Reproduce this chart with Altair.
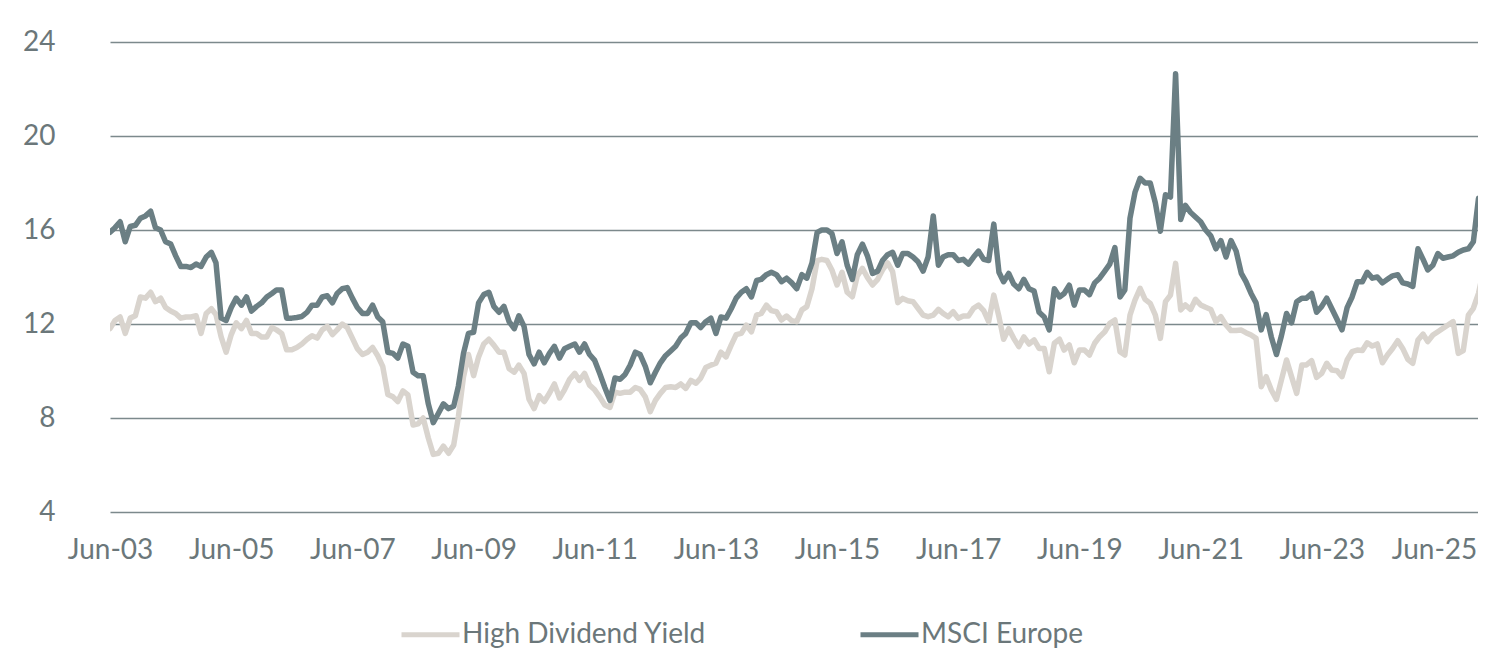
import altair as alt
import pandas as pd

series_names = ["High Dividend Yield", "MSCI Europe"]
series_colors = ["#d9d4ce", "#6b7f84"]

start_month = "2003-06-01"

hdy = [
    11.8, 12.15, 12.3, 11.6, 12.25, 12.35, 13.15, 13.1, 13.35, 12.95,
    13.1, 12.7, 12.55, 12.45, 12.25, 12.3, 12.3, 12.35, 11.6, 12.45,
    12.65, 12.4, 11.45, 10.8, 11.55, 12.05, 11.8, 12.15, 11.6, 11.6,
    11.45, 11.45, 11.85, 11.75, 11.6, 10.9, 10.9, 11.0, 11.15, 11.35,
    11.5, 11.4, 11.75, 11.9, 11.55, 11.75, 12.0, 11.85, 11.4, 10.95,
    10.7, 10.8, 11.0, 10.65, 10.2, 9.0, 8.9, 8.7, 9.15, 8.98,
    7.7, 7.75, 8.0, 7.15, 6.45, 6.5, 6.8, 6.5, 6.85, 8.05,
    9.75, 10.7, 9.8, 10.6, 11.15, 11.35, 11.1, 10.8, 10.8, 10.1,
    9.95, 10.25, 9.9, 8.8, 8.4, 8.95, 8.7, 9.05, 9.45, 8.85,
    9.2, 9.65, 9.9, 9.6, 9.9, 9.4, 9.2, 8.9, 8.55, 8.45,
    9.1, 9.05, 9.1, 9.1, 9.3, 9.22, 8.9, 8.27, 8.75, 9.05,
    9.3, 9.33, 9.3, 9.45, 9.26, 9.6, 9.48, 9.7, 10.15, 10.25,
    10.33, 10.8, 10.6, 11.1, 11.55, 11.6, 11.95, 11.67, 12.38, 12.45,
    12.8, 12.57, 12.52, 12.17, 12.34, 12.14, 12.1, 12.6, 12.74, 13.5,
    14.7, 14.75, 14.7, 14.3, 13.66, 14.2, 13.35, 13.16, 14.05, 14.37,
    13.98, 13.66, 13.9, 14.3, 14.6, 14.23, 12.91, 13.09, 12.99, 12.95,
    12.67, 12.38, 12.31, 12.38, 12.62, 12.45, 12.31, 12.52, 12.24, 12.34,
    12.34, 12.67, 12.8, 12.57, 12.1, 13.23, 12.31, 11.35, 11.8, 11.39,
    11.04, 11.45, 11.15, 11.32, 10.96, 10.96, 9.97, 11.18, 11.35, 10.89,
    11.11, 10.35, 10.89, 10.89, 10.68, 11.18, 11.46, 11.67, 12.03, 12.17,
    10.82, 10.68, 12.38, 13.02, 13.52, 13.05, 12.88, 12.38, 11.39, 12.95,
    13.23, 14.58, 12.6, 12.81, 12.62, 13.05, 12.81, 12.71, 12.62, 12.1,
    12.31, 11.96, 11.72, 11.72, 11.74, 11.63, 11.53, 11.39, 9.33, 9.76,
    9.19, 8.79, 9.62, 10.47, 9.76, 9.05, 10.26, 10.26, 10.44, 9.73,
    9.9, 10.33, 10.04, 10.01, 9.76, 10.47, 10.82, 10.89, 10.87, 11.2,
    11.06, 11.15, 10.35, 10.68, 10.96, 11.29, 10.96, 10.5, 10.33, 11.32,
    11.57, 11.25, 11.53, 11.67, 11.82, 11.96, 12.1, 10.75, 10.87, 12.38,
    12.67, 13.3, 14.3, 11.0,
]

msci = [
    15.9, 16.1, 16.35, 15.5, 16.15, 16.2, 16.5, 16.6, 16.8, 16.1,
    16.0, 15.5, 15.4, 14.9, 14.45, 14.45, 14.4, 14.55, 14.45, 14.85,
    15.05, 14.6, 12.25, 12.15, 12.7, 13.1, 12.8, 13.15, 12.55, 12.75,
    12.9, 13.15, 13.3, 13.45, 13.45, 12.25, 12.25, 12.28, 12.32, 12.5,
    12.8, 12.8, 13.15, 13.2, 12.9, 13.3, 13.5, 13.55, 13.1, 12.7,
    12.45, 12.45, 12.8, 12.3, 12.1, 10.8, 10.75, 10.55, 11.15, 11.05,
    9.95, 9.8, 9.8, 8.6, 7.8, 8.2, 8.6, 8.4, 8.5, 9.35,
    10.75, 11.6, 11.65, 12.9, 13.25, 13.35, 12.75, 12.5, 12.75, 12.1,
    11.8, 12.35, 11.9, 10.7, 10.3, 10.8, 10.35, 10.75, 11.05, 10.55,
    10.95, 11.05, 11.15, 10.8, 11.15, 10.7, 10.45, 9.9, 9.3, 8.75,
    9.7, 9.65, 9.85, 10.25, 10.8, 10.7, 10.2, 9.5, 9.95, 10.35,
    10.65, 10.85, 11.05, 11.4, 11.6, 12.05, 12.05, 11.85, 12.1, 12.25,
    11.6, 12.3, 12.25, 12.65, 13.1, 13.35, 13.5, 13.15, 13.85, 13.9,
    14.1, 14.2, 14.1, 13.8, 13.95, 13.75, 13.5, 14.1, 13.95, 14.6,
    15.9, 16.0, 16.0, 15.85, 15.0, 15.5, 14.5, 13.9, 14.95, 15.4,
    14.9, 14.15, 14.25, 14.7, 14.95, 15.05, 14.5, 15.0, 15.0, 14.85,
    14.65, 14.25, 14.85, 16.6, 14.5, 14.85, 14.95, 14.95, 14.7, 14.75,
    14.55, 14.85, 15.1, 14.75, 14.7, 16.25, 14.2, 13.8, 14.15, 13.7,
    13.5, 13.9, 13.5, 13.4, 12.5, 12.3, 11.75, 13.5, 13.15, 13.3,
    13.65, 12.8, 13.45, 13.45, 13.25, 13.75, 13.95, 14.25, 14.55, 15.25,
    13.15, 13.45, 16.5, 17.6, 18.2, 18.0, 18.0, 17.15, 15.95, 17.5,
    17.4, 22.65, 16.45, 17.05, 16.75, 16.55, 16.35, 16.0, 15.75, 15.2,
    15.55, 14.85, 15.55, 15.1, 14.15, 13.8, 13.3, 12.9, 11.75, 12.4,
    11.45, 10.7, 11.5, 12.45, 12.05, 12.95, 13.1, 13.1, 13.3, 12.5,
    12.75, 13.1, 12.65, 12.2, 11.75, 12.7, 13.15, 13.8, 13.8, 14.2,
    13.95, 14.0, 13.75, 13.9, 14.05, 14.1, 13.75, 13.7, 13.6, 15.2,
    14.75, 14.3, 14.5, 15.0, 14.8, 14.85, 14.9, 15.05, 15.15, 15.2,
    15.5, 17.35, 15.3, 14.2,
]

y_ticks = [4, 8, 12, 16, 20, 24]
x_tick_years = [2003, 2005, 2007, 2009, 2011, 2013, 2015, 2017, 2019, 2021, 2023, 2025]

dates = pd.date_range(start=start_month, periods=len(msci), freq="MS")
df = pd.concat([
    pd.DataFrame({"date": dates[:len(hdy)], "value": hdy, "series": series_names[0]}),
    pd.DataFrame({"date": dates, "value": msci, "series": series_names[1]}),
])

text_color = "#6b777a"
font = "Lato"

chart = alt.Chart(df).mark_line(
    strokeWidth=5.5, strokeJoin="round", strokeCap="round", clip=True
).encode(
    x=alt.X(
        "date:T",
        title=None,
        scale=alt.Scale(domain=[alt.DateTime(year=2003, month=6, date=1),
                                alt.DateTime(year=2025, month=12, date=29)]),
        axis=alt.Axis(
            values=[alt.DateTime(year=y, month=6, date=1) for y in x_tick_years],
            format="%b-%y", grid=False, ticks=False, domain=False,
            labelFontSize=28, labelFont=font, labelColor=text_color,
            labelPadding=24, labelFlush=False, labelOverlap=False,
            labelOffset={"condition": {"test": "year(datum.value) >= 2025", "value": -9},
                         "value": 0},
        ),
    ),
    y=alt.Y(
        "value:Q",
        title=None,
        scale=alt.Scale(domain=[4, 24], nice=False),
        axis=alt.Axis(
            values=y_ticks, grid=True, gridColor="#7c898c", gridWidth=1.4,
            ticks=False, domain=False, labelFontSize=28, labelFont=font,
            labelColor=text_color, labelPadding=55,
        ),
    ),
    color=alt.Color(
        "series:N",
        scale=alt.Scale(domain=series_names, range=series_colors),
        legend=alt.Legend(
            title=None, orient="none", direction="horizontal",
            legendX=289, legendY=561,
            symbolType="stroke", symbolSize=3364, symbolStrokeWidth=5,
            labelFontSize=28, labelFont=font, labelColor=text_color,
            labelOffset=0, columnPadding=143, labelLimit=400,
        ),
    ),
).properties(
    width=1368, height=470,
    autosize=alt.AutoSizeParams(type="none"),
    padding={"left": 102, "top": 34, "right": 0, "bottom": 137},
).configure_view(stroke=None)

chart.save("out.html", embed_options={"renderer": "svg", "actions": False})
